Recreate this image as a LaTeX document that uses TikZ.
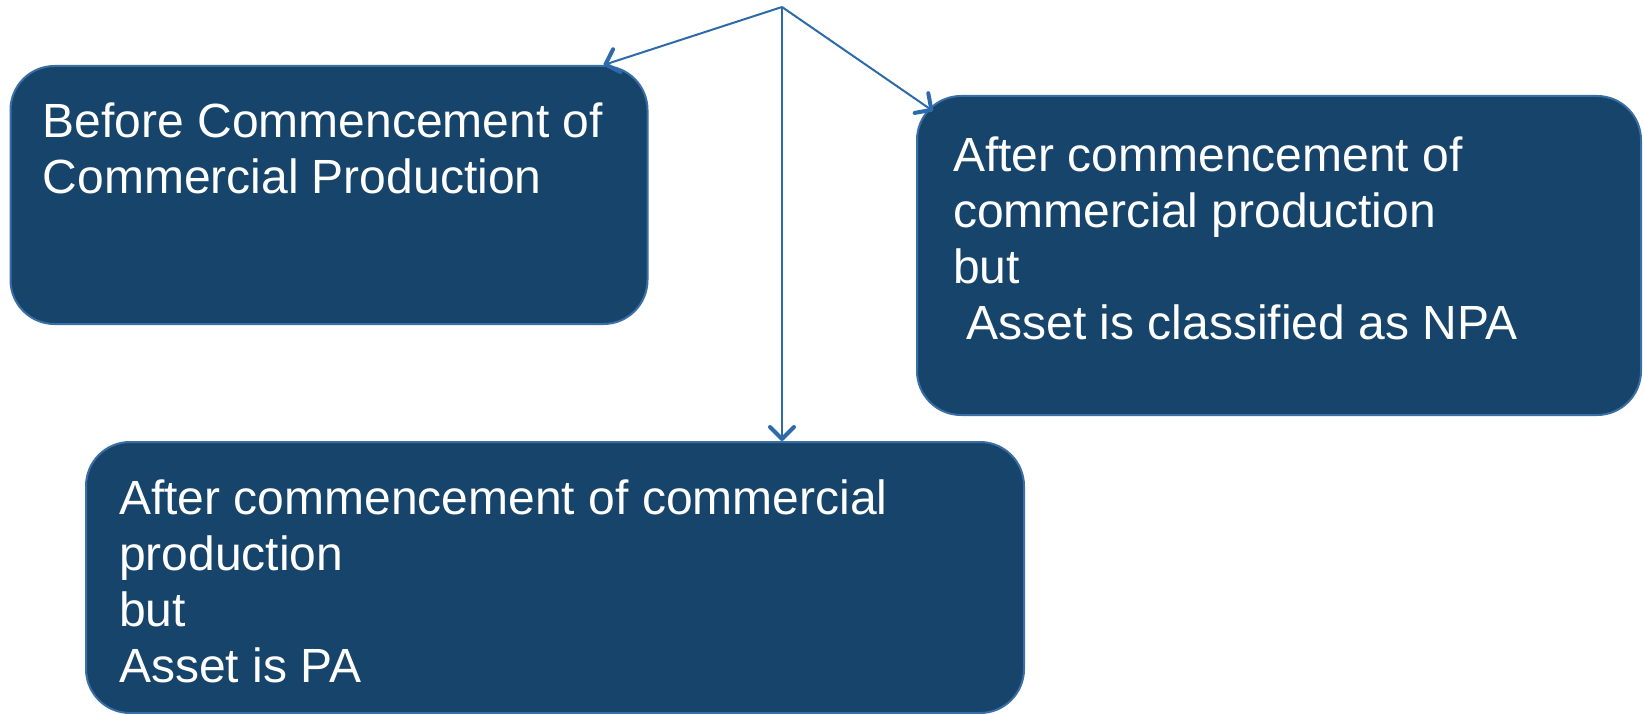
\documentclass[tikz,border=0pt]{standalone}
\usepackage{fontspec}
\setmainfont{Liberation Sans}
\usepackage{xcolor}
\usepackage{tikz}
\usetikzlibrary{arrows.meta, positioning}

\definecolor{boxfill}{HTML}{16446A}
\definecolor{boxline}{HTML}{3A6FA5}
\definecolor{arrowline}{HTML}{2C6AAA}

\begin{document}
\begin{tikzpicture}[x=1pt,y=-1pt,
                    stage node/.style={rectangle,rounded corners=44pt,draw=boxline,line width=2pt,fill=boxfill,inner sep=0pt},
                    stage text/.style={anchor=north west,inner sep=0pt,align=left,text=white,font=\fontsize{48}{56}\selectfont},
                    link/.style={draw=arrowline,line width=2pt,-{Straight Barb[length=12pt,width=24pt,line width=4pt,round]}}]

  \useasboundingbox (0,0) rectangle (1644,714);

  \coordinate (hub) at (782,7);

  \node[stage node,minimum width=637pt,minimum height=258pt] (before) at (329,195) {};
  \node[stage node,minimum width=724pt,minimum height=319pt] (npa) at (1279,255.5) {};
  \node[stage node,minimum width=938pt,minimum height=271pt] (pa) at (555,577.5) {};

  \coordinate (drop) at (hub |- pa.north);

  \node[stage text] (before text) at ([xshift=33pt,yshift=-38pt]before.north west)
    {Before Commencement of\\Commercial Production};
  \node[stage text] (npa text) at ([xshift=37pt,yshift=-42pt]npa.north west)
    {After commencement of\\commercial production\\but\\\hspace*{0.28em}Asset is classified as NPA};
  \node[stage text] (pa text) at ([xshift=34pt,yshift=-39pt]pa.north west)
    {After commencement of commercial\\production\\but\\Asset is PA};

  % arrows out of the hub
  \path[every edge/.style={link}]
    (hub) edge ([xshift=-45pt]before.north east)
          edge ([xshift=17pt,yshift=-16pt]npa.north west)
          edge (drop);

\end{tikzpicture}
\end{document}
